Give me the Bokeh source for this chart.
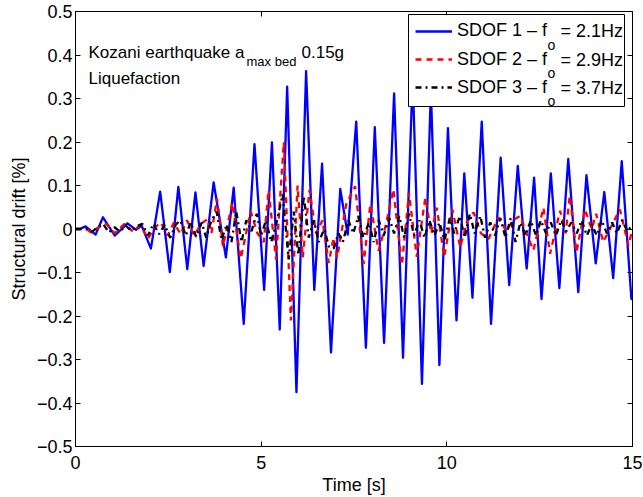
from bokeh.plotting import figure
from bokeh.models import (Range1d, FixedTicker, LinearAxis, Label, Legend,
                          LegendItem, CustomJSTickFormatter, BoxAnnotation)
from bokeh.core.properties import value
from bokeh.embed import file_html
from bokeh.resources import INLINE

FONT = "Liberation Sans"

# ---------------- data ----------------
blue_t = [0.0, 0.12, 0.27, 0.54, 0.74, 1.06, 1.40, 1.63, 1.78, 2.03, 2.28, 2.54,
          2.77, 3.01, 3.23, 3.45, 3.72, 4.05, 4.26, 4.53, 4.82, 5.08, 5.29, 5.50,
          5.70, 5.95, 6.21, 6.43, 6.64, 6.88, 7.13, 7.33, 7.56, 7.82, 8.06, 8.31,
          8.58, 8.82, 9.08, 9.33, 9.57, 9.80, 10.03, 10.26, 10.47, 10.69, 10.94,
          11.19, 11.45, 11.68, 11.91, 12.15, 12.35, 12.55, 12.80, 13.03, 13.27,
          13.54, 13.76, 14.01, 14.24, 14.48, 14.71, 14.97, 15.0]
blue_v = [0.0, 0.0, 0.006, -0.013, 0.027, -0.015, 0.013, -0.002, 0.008, -0.045,
          0.086, -0.099, 0.097, -0.092, 0.084, -0.085, 0.107, -0.065, 0.095,
          -0.218, 0.195, -0.14, 0.199, -0.231, 0.327, -0.375, 0.363, -0.14, 0.15,
          -0.284, 0.092, -0.013, 0.247, -0.273, 0.234, -0.262, 0.312, -0.296,
          0.35, -0.356, 0.32, -0.313, 0.232, -0.21, 0.128, -0.158, 0.247, -0.218,
          0.164, -0.129, 0.145, -0.091, 0.118, -0.161, 0.128, -0.136, 0.161,
          -0.145, 0.124, -0.079, 0.085, -0.113, 0.156, -0.161, -0.14]

red_t = [0.0, 0.3, 0.42, 0.62, 0.83, 1.05, 1.32, 1.55, 1.75, 1.95, 2.15, 2.30,
         2.48, 2.65, 2.83, 3.00, 3.20, 3.38, 3.56, 3.66, 3.81, 3.97, 4.22, 4.45,
         4.62, 4.72, 4.90, 5.07, 5.20, 5.40, 5.61, 5.80, 5.98, 6.12, 6.30, 6.48,
         6.65, 6.82, 6.95, 7.05, 7.29, 7.53, 7.76, 7.94, 8.16, 8.36, 8.56, 8.79,
         8.98, 9.19, 9.42, 9.58, 9.73, 9.93, 10.15, 10.36, 10.55, 10.72, 10.92,
         11.12, 11.39, 11.60, 11.78, 11.97, 12.15, 12.33, 12.60, 12.78, 13.05,
         13.20, 13.31, 13.49, 13.72, 13.90, 14.02, 14.21, 14.45, 14.66, 14.89, 15.0]
red_v = [0.0, 0.0, -0.008, 0.004, 0.012, -0.01, 0.012, -0.006, 0.01, -0.022,
         0.005, 0.015, -0.015, 0.015, -0.012, 0.02, -0.015, 0.012, 0.023, -0.01,
         0.07, -0.04, 0.06, -0.068, 0.0, 0.04, -0.01, -0.03, 0.09, -0.07, 0.2,
         -0.21, 0.1, -0.065, 0.09, -0.01, 0.02, -0.078, -0.02, -0.065, 0.057,
         0.098, -0.08, 0.057, -0.05, 0.01, 0.091, -0.083, 0.083, -0.064, 0.072,
         -0.01, 0.049, -0.064, 0.045, -0.042, 0.02, 0.038, -0.01, -0.023, 0.027,
         -0.005, 0.02, 0.03, -0.01, -0.049, 0.049, -0.057, 0.042, -0.01, 0.076,
         -0.053, 0.045, 0.0, 0.035, -0.03, 0.01, 0.045, -0.038, 0.0]

black_t = [0.0, 0.3, 0.45, 0.6, 0.74, 0.9, 1.05, 1.2, 1.35, 1.5, 1.65, 1.8,
           1.95, 2.1, 2.25, 2.4, 2.55, 2.7, 2.82, 2.97, 3.1, 3.25, 3.4, 3.52,
           3.66, 3.8, 3.93, 4.07, 4.2, 4.33, 4.47, 4.6, 4.74, 4.88, 5.0, 5.13,
           5.27, 5.4, 5.58, 5.74, 5.88, 6.0, 6.15, 6.28, 6.42, 6.55, 6.7, 6.82,
           6.95, 7.08, 7.2, 7.35, 7.48, 7.62, 7.75, 7.9, 8.03, 8.17, 8.3, 8.45,
           8.58, 8.72, 8.85, 8.98, 9.12, 9.26, 9.4, 9.53, 9.67, 9.8, 9.94, 10.08,
           10.2, 10.35, 10.48, 10.62, 10.75, 10.9, 11.03, 11.17, 11.3, 11.44,
           11.58, 11.72, 11.85, 11.98, 12.12, 12.26, 12.4, 12.53, 12.67, 12.8,
           12.94, 13.08, 13.22, 13.35, 13.5, 13.63, 13.77, 13.9, 14.04, 14.17,
           14.31, 14.45, 14.58, 14.72, 14.86, 15.0]
black_v = [0.0, 0.0, -0.006, 0.004, 0.012, -0.008, 0.004, -0.006, 0.008, -0.004,
           0.006, 0.012, -0.015, 0.012, -0.012, 0.01, -0.02, 0.01, 0.02, -0.015,
           0.015, -0.018, 0.015, -0.02, 0.02, 0.04, -0.025, 0.01, -0.03, 0.04,
           -0.03, 0.02, -0.005, 0.035, -0.015, 0.02, -0.03, 0.01, 0.08, -0.07,
           0.04, -0.06, 0.075, -0.02, 0.02, -0.03, 0.0, -0.04, -0.045, -0.01,
           -0.03, 0.02, -0.01, 0.03, -0.02, 0.015, -0.03, 0.02, -0.015, 0.025,
           -0.01, 0.03, -0.02, 0.035, -0.015, 0.02, -0.02, 0.02, -0.015, 0.015,
           -0.025, 0.025, -0.01, 0.03, -0.02, 0.035, -0.01, 0.03, -0.02, 0.015,
           -0.015, 0.025, -0.02, 0.025, -0.03, 0.015, -0.015, 0.02, -0.015, 0.02,
           -0.01, 0.015, -0.015, 0.02, -0.005, 0.015, -0.01, 0.02, -0.015, 0.01,
           -0.015, 0.02, -0.01, 0.015, -0.01, 0.02, -0.005, 0.01]

x_ticks = [0, 5, 10, 15]
y_ticks = [-0.5, -0.4, -0.3, -0.2, -0.1, 0, 0.1, 0.2, 0.3, 0.4, 0.5]

series_labels = ["SDOF 1 \u2013 f", "SDOF 2 \u2013 f", "SDOF 3 \u2013 f"]
series_freqs = ["= 2.1Hz", "= 2.9Hz", "= 3.7Hz"]

# ---------------- figure ----------------
p = figure(width=642, height=497, x_range=Range1d(0, 15), y_range=Range1d(-0.5, 0.5),
           output_backend="svg", toolbar_location=None,
           min_border_left=75, min_border_right=10, min_border_top=11,
           min_border_bottom=49)
p.xgrid.grid_line_color = None
p.ygrid.grid_line_color = None
p.outline_line_color = "black"
p.outline_line_width = 1
p.background_fill_color = "white"
p.border_fill_color = "white"

fmt = CustomJSTickFormatter(code="""
    if (Math.abs(tick) < 1e-9) { return "0"; }
    return tick.toFixed(1).replace("-", "\u2212");
""")

for ax in (p.xaxis[0], p.yaxis[0]):
    ax.major_tick_in = 5
    ax.major_tick_out = 0
    ax.minor_tick_line_color = None
    ax.axis_line_color = "black"
    ax.major_tick_line_color = "black"
    ax.major_label_text_font = FONT
    ax.major_label_text_font_size = "18px"
    ax.major_label_text_color = "black"
    ax.axis_label_text_font = FONT
    ax.axis_label_text_font_size = "18px"
    ax.axis_label_text_font_style = "normal"
    ax.axis_label_text_color = "black"

p.xaxis[0].ticker = FixedTicker(ticks=x_ticks)
p.xaxis[0].axis_label = "Time [s]"
p.xaxis[0].major_label_standoff = 9
p.xaxis[0].axis_label_standoff = 3

p.yaxis[0].ticker = FixedTicker(ticks=y_ticks)
p.yaxis[0].formatter = fmt
p.yaxis[0].axis_label = "Structural drift [%]"
p.yaxis[0].major_label_standoff = 3
p.yaxis[0].axis_label_standoff = 5

# mirrored ticks on top and right (box on)
top_ax = LinearAxis(ticker=FixedTicker(ticks=x_ticks))
right_ax = LinearAxis(ticker=FixedTicker(ticks=y_ticks))
for ax in (top_ax, right_ax):
    ax.major_tick_in = 5
    ax.major_tick_out = 0
    ax.minor_tick_line_color = None
    ax.major_label_text_color = None
    ax.major_label_text_font_size = "1px"
    ax.major_label_standoff = 0
    ax.axis_line_color = "black"
p.add_layout(top_ax, "above")
p.add_layout(right_ax, "right")

# ---------------- series ----------------
r1 = p.line(blue_t, blue_v, line_color="#0000ff", line_width=2.3, line_join="round")
r2 = p.line(red_t, red_v, line_color="#ff0000", line_width=2.3, line_dash="6 5")
r3 = p.line(black_t, black_v, line_color="black", line_width=2.3, line_dash="6 4 2 4")
renderers = [r1, r2, r3]

# ---------------- legend (box + one legend per row + subscripts) ----------------
p.add_layout(BoxAnnotation(left=333, right=549, bottom=340, top=432,
                           left_units="screen", right_units="screen",
                           bottom_units="screen", top_units="screen",
                           fill_color="white", fill_alpha=1.0,
                           line_color="black", line_width=1, line_alpha=1.0))

row_y = [415.3, 387.0, 358.7]
for i in range(3):
    lg = Legend(items=[LegendItem(label=value(series_labels[i]), renderers=[renderers[i]])],
                location=(340, row_y[i] - 11), orientation="vertical",
                border_line_color=None, background_fill_alpha=0.0,
                label_text_font=FONT, label_text_font_size="18px",
                label_text_color="black", padding=0, spacing=0, margin=0,
                glyph_width=37, glyph_height=22, label_standoff=5, label_height=22)
    p.add_layout(lg)

for i in range(3):
    p.add_layout(Label(x=472, y=row_y[i] - 13.6, x_units="screen", y_units="screen",
                       text="o", text_font=FONT, text_font_size="14px",
                       text_baseline="alphabetic", text_color="black"))
    p.add_layout(Label(x=485, y=row_y[i], x_units="screen", y_units="screen",
                       text=series_freqs[i], text_font=FONT, text_font_size="18px",
                       text_baseline="middle", text_color="black"))

# annotation text
p.add_layout(Label(x=13, y=394.2, x_units="screen", y_units="screen",
                   text="Kozani earthquake a", text_font=FONT, text_font_size="17px",
                   text_baseline="alphabetic", text_color="black"))
p.add_layout(Label(x=171, y=385.5, x_units="screen", y_units="screen",
                   text="max bed", text_font=FONT, text_font_size="13px",
                   text_baseline="alphabetic", text_color="black"))
p.add_layout(Label(x=226, y=394.2, x_units="screen", y_units="screen",
                   text="0.15g", text_font=FONT, text_font_size="17px",
                   text_baseline="alphabetic", text_color="black"))
p.add_layout(Label(x=13, y=368, x_units="screen", y_units="screen",
                   text="Liquefaction", text_font=FONT, text_font_size="17px",
                   text_baseline="alphabetic", text_color="black"))

open("out.html", "w").write(file_html(p, INLINE))
